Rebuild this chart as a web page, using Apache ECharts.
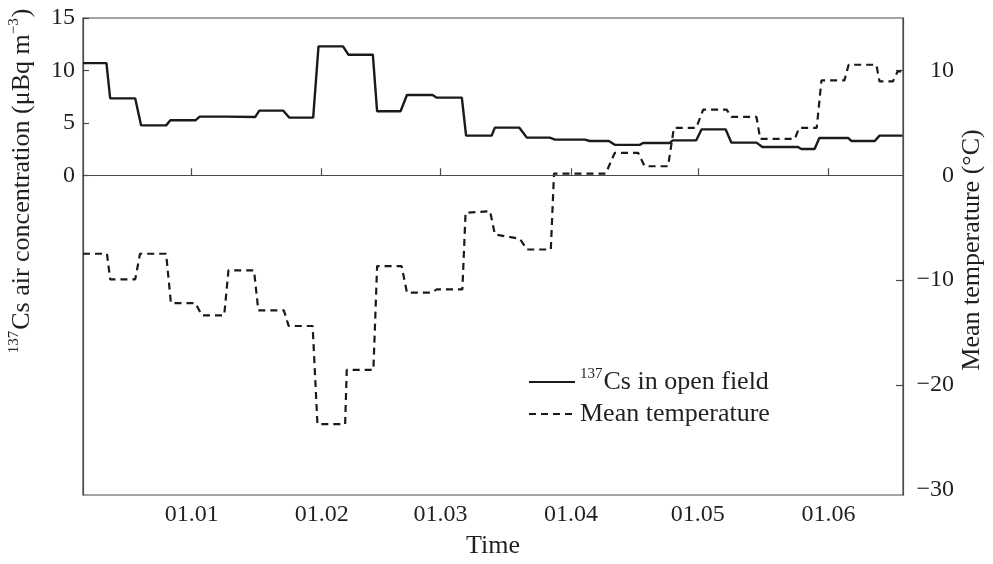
<!DOCTYPE html>
<html>
<head>
<meta charset="utf-8">
<script src="https://cdn.jsdelivr.net/npm/echarts@6/dist/echarts.min.js"></script>
<style>
html,body{margin:0;padding:0;background:#fff;}
#chart{width:993px;height:564px;}
</style>
</head>
<body>
<div id="chart"></div>
<script>
// x in hours from the start of the record
const tickHours = [20.4, 44.8, 67.1, 91.6, 115.4, 139.9];
const tickLabels = ['01.01', '01.02', '01.03', '01.04', '01.05', '01.06'];

const csHours = [0, 4.4, 5.1, 9.8, 10.9, 15.6, 16.4, 21.1, 21.9, 26.7, 32.3, 33.1, 37.6, 38.7, 43.2, 44.2, 48.8, 49.8, 54.4, 55.2, 59.6, 60.8, 65.6, 66.4, 71.1, 71.9, 76.7, 77.3, 81.9, 83.3, 87.6, 88.6, 94.2, 95.1, 98.7, 99.8, 104.5, 105.1, 110.1, 110.7, 115.1, 116.1, 120.6, 121.7, 126.4, 127.5, 134.2, 134.8, 137.3, 138.2, 143.6, 144.2, 148.6, 149.5, 153.8];
const csValues = [10.7, 10.7, 7.33, 7.33, 4.76, 4.76, 5.24, 5.24, 5.59, 5.59, 5.55, 6.16, 6.16, 5.5, 5.5, 12.29, 12.29, 11.5, 11.5, 6.1, 6.1, 7.66, 7.66, 7.4, 7.4, 3.78, 3.78, 4.54, 4.54, 3.59, 3.59, 3.4, 3.4, 3.27, 3.27, 2.9, 2.9, 3.08, 3.08, 3.33, 3.33, 4.38, 4.38, 3.11, 3.11, 2.7, 2.7, 2.51, 2.51, 3.56, 3.56, 3.27, 3.27, 3.78, 3.78];

const tempHours = [0, 4.5, 5.1, 9.8, 10.7, 15.6, 16.5, 21.1, 22.3, 26.5, 27.3, 32.1, 32.9, 37.7, 38.6, 43.1, 44.0, 49.2, 49.5, 54.5, 55.2, 59.8, 60.8, 65.4, 66.4, 71.2, 71.8, 76.4, 77.3, 82.0, 83.3, 87.8, 88.4, 98.1, 99.8, 104.2, 105.4, 109.8, 110.9, 115.1, 116.4, 120.8, 121.7, 126.4, 127.1, 133.6, 134.4, 137.7, 138.6, 142.9, 143.7, 148.9, 149.5, 152.0, 152.9, 153.8];
const tempValues = [-7.49, -7.49, -9.93, -9.93, -7.49, -7.49, -12.19, -12.19, -13.36, -13.36, -9.08, -9.08, -12.89, -12.89, -14.38, -14.38, -23.74, -23.74, -18.57, -18.57, -8.67, -8.67, -11.2, -11.2, -10.89, -10.89, -3.58, -3.43, -5.65, -6.06, -7.08, -7.08, 0.16, 0.16, 2.13, 2.13, 0.86, 0.86, 4.51, 4.51, 6.26, 6.26, 5.56, 5.56, 3.47, 3.47, 4.51, 4.51, 9.05, 9.05, 10.54, 10.54, 8.95, 8.95, 9.9, 9.9];

const leftLabels = [0, 5, 10, 15];
const rightLabels = [-30, -20, -10, 0, 10];
const rightTicks = [-20, -10, 10];

const seriesNames = ['137Cs in open field', 'Mean temperature'];

const FONT = '"Liberation Serif", "DejaVu Serif", serif';
const INK = '#231f20';
const AXIS = '#4a4a4a';

const zip = (xs, ys) => xs.map((x, i) => [x, ys[i]]);
const fmtNum = v => (v < 0 ? '\u2212' + Math.abs(v) : String(v));

const chart = echarts.init(document.getElementById('chart'), null, {renderer: 'canvas'});
const supRich = {
  sup: {fontFamily: FONT, fontSize: 15, color: INK, verticalAlign: 'top', lineHeight: 15, padding: [0, 1, 0, 0]},
  n: {fontFamily: FONT, fontSize: 26, color: INK, lineHeight: 30}
};

chart.setOption({
  animation: false,
  backgroundColor: '#fff',
  grid: {left: 83, right: 90, top: 18, bottom: 67, show: true, borderColor: AXIS, borderWidth: 1.2, containLabel: false},
  legend: {
    orient: 'vertical',
    left: 523,
    top: 362,
    itemWidth: 46,
    itemHeight: 14,
    itemGap: 6,
    data: seriesNames,
    itemStyle: {opacity: 0},
    textStyle: {fontFamily: FONT, fontSize: 26, color: INK, rich: supRich},
    formatter: name => name.startsWith('137') ? '{sup|137}{n|' + name.slice(3) + '}' : '{n|' + name + '}'
  },
  xAxis: {
    type: 'value',
    min: 0,
    max: 153.9,
    name: 'Time',
    nameLocation: 'middle',
    nameGap: 38,
    nameTextStyle: {fontFamily: FONT, fontSize: 26, color: INK},
    axisLine: {show: true, lineStyle: {color: AXIS, width: 1.2}},
    axisTick: {show: true, inside: true, length: 7, customValues: tickHours, lineStyle: {color: AXIS, width: 1.2}},
    axisLabel: {
      customValues: tickHours,
      fontFamily: FONT, fontSize: 24, color: INK, margin: 8,
      formatter: v => {
        let best = -1, d = 1e9;
        tickHours.forEach((t, i) => { if (Math.abs(t - v) < d) { d = Math.abs(t - v); best = i; } });
        return d < 0.5 ? tickLabels[best] : '';
      }
    },
    splitLine: {show: false}
  },
  yAxis: [
    {
      type: 'value',
      position: 'left',
      min: -30.5,
      max: 15,
      axisLine: {show: true, onZero: false, lineStyle: {color: AXIS, width: 1.2}},
      axisTick: {show: true, inside: true, length: 6, customValues: leftLabels, lineStyle: {color: AXIS, width: 1.2}},
      axisLabel: {customValues: leftLabels, fontFamily: FONT, fontSize: 24, color: INK, margin: 8, formatter: fmtNum},
      splitLine: {show: false}
    },
    {
      type: 'value',
      position: 'right',
      min: -30.5,
      max: 15,
      axisLine: {show: true, onZero: false, lineStyle: {color: AXIS, width: 1.2}},
      axisTick: {show: true, inside: true, length: 7, customValues: rightTicks, lineStyle: {color: AXIS, width: 1.2}},
      axisLabel: {customValues: rightLabels, fontFamily: FONT, fontSize: 24, color: INK, margin: 51, align: 'right', formatter: fmtNum},
      splitLine: {show: false}
    }
  ],
  series: [
    {
      name: seriesNames[0],
      type: 'line',
      yAxisIndex: 0,
      symbol: 'none',
      data: zip(csHours, csValues),
      lineStyle: {color: '#1a1a1a', width: 2.4, type: 'solid'},
      itemStyle: {color: '#1a1a1a'},
      markLine: {
        silent: true,
        symbol: 'none',
        label: {show: false},
        lineStyle: {color: AXIS, width: 1.2, type: 'solid'},
        data: [{yAxis: 0}]
      }
    },
    {
      name: seriesNames[1],
      type: 'line',
      yAxisIndex: 1,
      symbol: 'none',
      data: zip(tempHours, tempValues),
      lineStyle: {color: '#1a1a1a', width: 2.2, type: [7, 5]},
      itemStyle: {color: '#1a1a1a'}
    }
  ],
  graphic: [
    {
      type: 'text',
      x: 22,
      y: 181,
      rotation: Math.PI / 2,
      style: {
        text: '{sup|137}{n|Cs air concentration (\u03bcBq m}{sup|\u22123}{n|)}',
        align: 'center',
        verticalAlign: 'middle',
        fill: INK,
        font: '26px ' + FONT,
        rich: supRich
      }
    },
    {
      type: 'text',
      x: 972,
      y: 250,
      rotation: Math.PI / 2,
      style: {
        text: 'Mean temperature (\u00b0C)',
        align: 'center',
        verticalAlign: 'middle',
        fill: INK,
        font: '26px ' + FONT
      }
    }
  ]
});
</script>
</body>
</html>
